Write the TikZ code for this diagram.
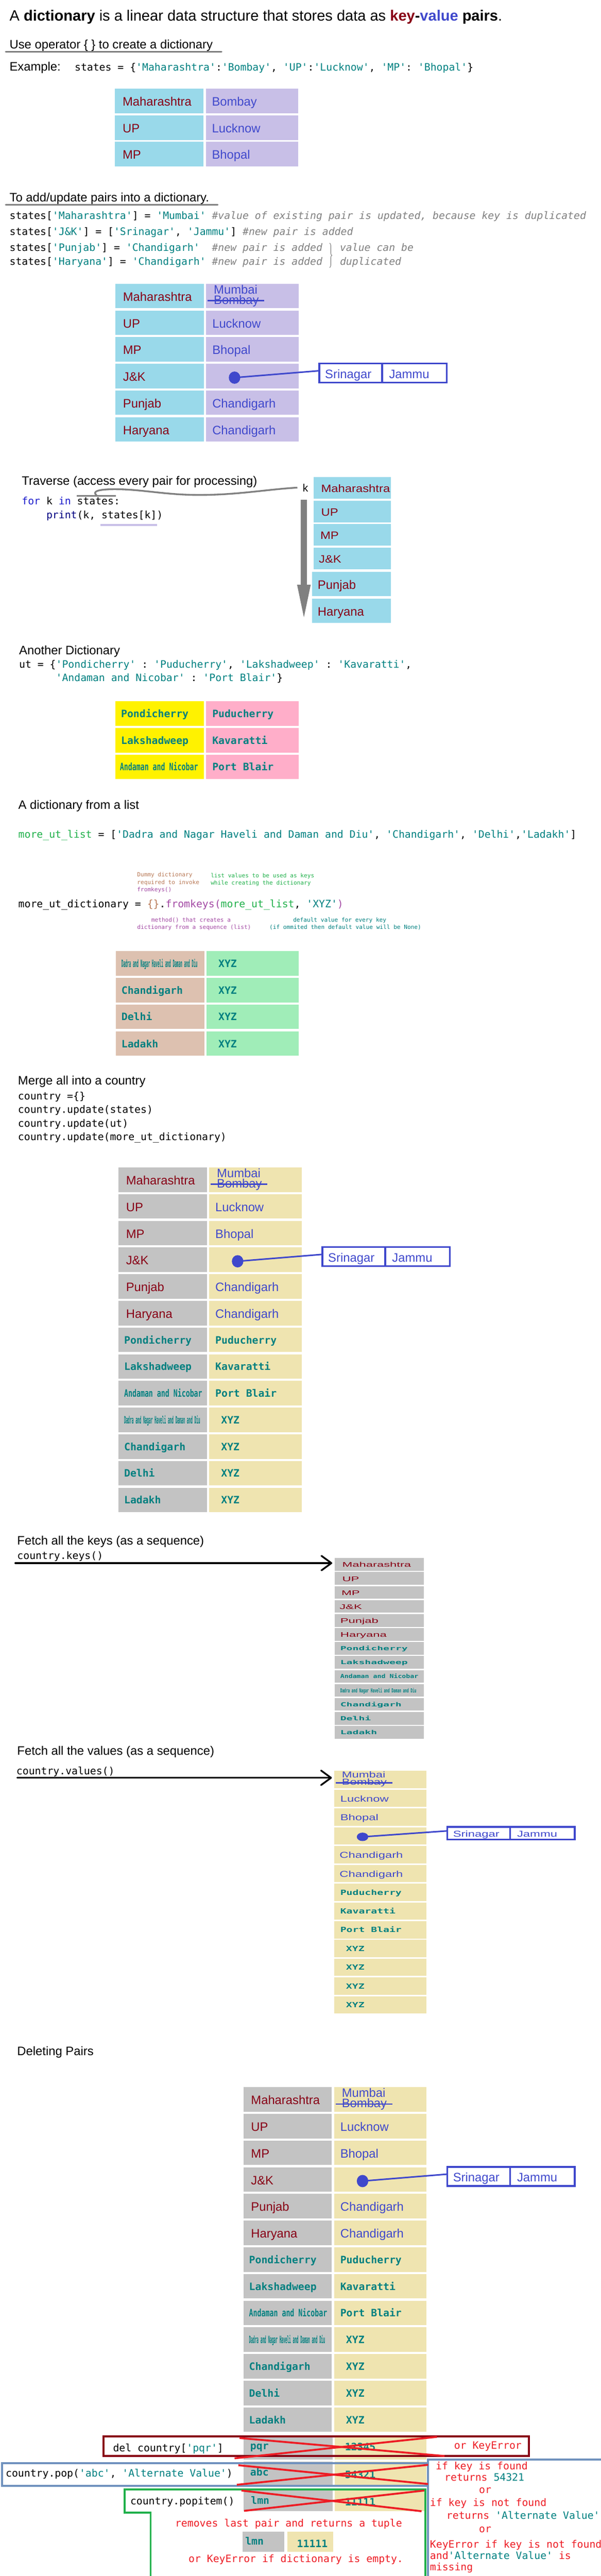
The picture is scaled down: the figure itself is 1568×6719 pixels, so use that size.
\documentclass[tikz,border=0pt]{standalone}
\usepackage{fontspec}
\setmainfont{Liberation Sans}
\setmonofont{DejaVu Sans Mono}
\usepackage{graphicx}
\usetikzlibrary{arrows.meta,decorations.pathreplacing,shapes.geometric}
\definecolor{keyred}{HTML}{880015}
\definecolor{valblue}{HTML}{3F48CC}
\definecolor{keyblue}{HTML}{99D9EA}
\definecolor{lav}{HTML}{C8BFE7}
\definecolor{yel}{HTML}{FFF200}
\definecolor{cpink}{HTML}{FFAEC9}
\definecolor{ctan}{HTML}{DDC1B0}
\definecolor{mint}{HTML}{A0EDB8}
\definecolor{lgray}{HTML}{C3C3C3}
\definecolor{cream}{HTML}{EFE4B0}
\definecolor{cteal}{HTML}{008080}
\definecolor{cmgray}{HTML}{808080}
\definecolor{cbrown}{HTML}{B97A57}
\definecolor{cpurple}{HTML}{A349A4}
\definecolor{cgreen}{HTML}{22B14C}
\definecolor{cred}{HTML}{ED1C24}
\definecolor{bluegray}{HTML}{7092BE}
\definecolor{kwblue}{HTML}{1C1CCC}
\definecolor{cnavy}{HTML}{000080}
\newcommand\SF{\fontsize{32}{38}\selectfont}
\newcommand\TF{\fontsize{39}{46}\selectfont}
\newcommand\MF{\ttfamily\fontsize{26.58}{32}\selectfont}
\newcommand\NF{\ttfamily\fontsize{14.95}{18}\selectfont}
\newcommand\qs[1]{\textcolor{cteal}{#1}}
\newcommand\cmt[1]{\textcolor{cmgray}{\itshape #1}}
\newcommand\redT[1]{\textcolor{cred}{#1}}
\newcommand\keyT[1]{\textcolor{keyred}{\SF #1}}
\newcommand\valT[1]{\textcolor{valblue}{\SF #1}}
\newcommand\monoP[1]{\textcolor{cteal}{\MF\bfseries #1}}
\newcommand\monoT[1]{\raisebox{3pt}{\monoP{#1}}}
\newcommand\monoK[1]{\kern-5pt\monoT{#1}}
\newcommand\xyzT{\hspace*{15pt}\monoT{XYZ}}
\newcommand\andaman{\monoK{\scalebox{0.67}[1]{Andaman and Nicobar}}}
\newcommand\dadra{\monoK{\scalebox{0.31}[1]{Dadra and Nagar Haveli and Daman and Diu}}}
\newcommand\sk[1]{\scalebox{1}[0.55]{#1}}
\newcommand\sv[1]{\scalebox{1}[0.7]{#1}}
\tikzset{
  cellbox/.style={draw=none,inner sep=0pt,outer sep=0pt,anchor=north west},
  tx/.style={inner sep=0pt,outer sep=0pt,anchor=base west},
  uline/.style={draw=cmgray,line width=4.5pt,line cap=round},
  xmark/.style={draw=cred,line width=5pt},
  fetcharrow/.style={draw=black,line width=4.5pt,line cap=round,shorten >=6pt,-{Straight Barb[length=26pt,width=38pt,round]}},
}
\newcommand\mkcell[6]{\node[cellbox,fill=#6,minimum width=#4,minimum height=#5] (#1) at (#2,#3) {};}
\newcommand\mktext[5]{\node[tx] (#1) at ([xshift=#3pt,yshift=-#4pt]#2.west) {#5};}
\newcommand\mkrow[7]{\mkcell{#1k}{#2}{#3}{231}{64}{#4}\mkcell{#1v}{#2+237}{#3}{241}{64}{#5}\mktext{#1kt}{#1k}{20}{13}{#6}\mktext{#1vt}{#1v}{16}{13}{#7}}
\newcommand\mklrow[9]{\mkcell{#1}{#2}{#3}{#4}{#5}{#6}\mktext{#1t}{#1}{#7}{#9}{#8}}
\newcommand\mkmumbai[6]{%
  \node[tx] (#1mu) at ([xshift=20pt,yshift=-#3pt]#2.north west) {\scalebox{1}[#6]{\valT{Mumbai}}};
  \node[tx] (#1bo) at ([xshift=20pt,yshift=-#5pt]#2.north west) {\scalebox{1}[#6]{\valT{Bombay}}};
  \draw[valblue,line width=4pt] ([xshift=4pt,yshift=-#4pt]#2.north west) -- ([xshift=152pt,yshift=-#4pt]#2.north west);}
\newcommand\mkjk[6]{%
  \node[ellipse,fill=valblue,inner sep=0pt,minimum width=30,minimum height=#4] (#1dot) at ([xshift=74pt,yshift=-#3pt]#2.north west) {};
  \node[draw=valblue,line width=4.5pt,fill=white,inner sep=0pt,outer sep=0pt,anchor=north west,minimum width=332.5,minimum height=#5] (#1box) at ([xshift=54.25pt,yshift=0.75pt]#2.north east) {};
  \draw[valblue,line width=4.5pt] ([xshift=164pt]#1box.north west) -- ([xshift=164pt]#1box.south west);
  \node[tx] (#1sr) at ([xshift=15pt,yshift=-14*#6pt]#1box.west) {\scalebox{1}[#6]{\valT{Srinagar}}};
  \node[tx] (#1ja) at ([xshift=182pt,yshift=-14*#6pt]#1box.west) {\scalebox{1}[#6]{\valT{Jammu}}};
  \draw[valblue,line width=4pt] (#1dot.center) -- ([yshift=6pt]#1box.west);}
\newcommand\bigtable[5]{%
  \mkrow{#1a}{#2}{#3}{#4}{#5}{\keyT{Maharashtra}}{}
  \mkmumbai{#1a}{#1av}{26.5}{44}{53}{1}
  \mkrow{#1b}{#2}{#3+69.6}{#4}{#5}{\keyT{UP}}{\valT{Lucknow}}
  \mkrow{#1c}{#2}{#3+139.2}{#4}{#5}{\keyT{MP}}{\valT{Bhopal}}
  \mkrow{#1d}{#2}{#3+208.8}{#4}{#5}{\keyT{J\&K}}{}
  \mkjk{#1d}{#1dv}{36}{32}{49.5}{1}
  \mkrow{#1e}{#2}{#3+278.4}{#4}{#5}{\keyT{Punjab}}{\valT{Chandigarh}}
  \mkrow{#1f}{#2}{#3+348}{#4}{#5}{\keyT{Haryana}}{\valT{Chandigarh}}
  \mkrow{#1g}{#2}{#3+417.6}{#4}{#5}{\monoK{Pondicherry}}{\monoT{Puducherry}}
  \mkrow{#1h}{#2}{#3+487.2}{#4}{#5}{\monoK{Lakshadweep}}{\monoT{Kavaratti}}
  \mkrow{#1i}{#2}{#3+556.8}{#4}{#5}{\andaman}{\monoT{Port Blair}}
  \mkrow{#1j}{#2}{#3+626.4}{#4}{#5}{\dadra}{\xyzT}
  \mkrow{#1k}{#2}{#3+696}{#4}{#5}{\monoK{Chandigarh}}{\xyzT}
  \mkrow{#1l}{#2}{#3+765.6}{#4}{#5}{\monoK{Delhi}}{\xyzT}
  \mkrow{#1m}{#2}{#3+835.2}{#4}{#5}{\monoK{Ladakh}}{\xyzT}}
\begin{document}
\begin{tikzpicture}[x=1pt,y=-1pt]
\useasboundingbox (0,0) rectangle (1568,6719);
\fill[white] (0,0) rectangle (1568,6719);
% ---------- title
\node[tx] (title) at (25,55) {\TF A \textbf{dictionary} is a linear data structure that stores data as \textbf{\textcolor{keyred}{key}-\textcolor{valblue}{value}} \textbf{pairs}.};
% ---------- section 1
\node[tx] (h1) at (25,127) {\SF Use operator \{ \} to create a dictionary};
\draw[uline] (15,135) -- (578,135);
\node[tx] (ex) at (25,185) {\SF Example:};
\node[tx] (exc) at (195,185) {\MF states = \{\qs{'Maharashtra'}:\qs{'Bombay'}, \qs{'UP'}:\qs{'Lucknow'}, \qs{'MP'}: \qs{'Bhopal'}\}};
\mkrow{ta}{300}{231}{keyblue}{lav}{\keyT{Maharashtra}}{\valT{Bombay}}
\mkrow{tb}{300}{301}{keyblue}{lav}{\keyT{UP}}{\valT{Lucknow}}
\mkrow{tc}{300}{370}{keyblue}{lav}{\keyT{MP}}{\valT{Bhopal}}
% ---------- section 2
\node[tx] (h2) at (25,526) {\SF To add/update pairs into a dictionary.};
\draw[uline] (15,534) -- (568,534);
\node[tx] (ad1) at (25,572) {\MF states[\qs{'Maharashtra'}] = \qs{'Mumbai'} \cmt{\#value of existing pair is updated, because key is duplicated}};
\node[tx] (ad2) at (25,614) {\MF states[\qs{'J\&K'}] = [\qs{'Srinagar'}, \qs{'Jammu'}] \cmt{\#new pair is added}};
\node[tx] (ad3) at (25,655) {\MF states[\qs{'Punjab'}] = \qs{'Chandigarh'}~ \cmt{\#new pair is added}};
\node[tx] (ad4) at (25,692) {\MF states[\qs{'Haryana'}] = \qs{'Chandigarh'} \cmt{\#new pair is added}};
\draw[cmgray,line width=1.5pt,decorate,decoration={brace,amplitude=6pt}] (860,634) -- (860,698);
\node[tx] (ad3b) at (887,655) {\MF\cmt{value can be}};
\node[tx] (ad4b) at (887,692) {\MF\cmt{duplicated}};
\mkrow{ua}{301}{740}{keyblue}{lav}{\keyT{Maharashtra}}{}
\mkmumbai{ua}{uav}{26.5}{44}{53.5}{1}
\mkrow{ub}{301}{810}{keyblue}{lav}{\keyT{UP}}{\valT{Lucknow}}
\mkrow{uc}{301}{879}{keyblue}{lav}{\keyT{MP}}{\valT{Bhopal}}
\mkrow{ud}{301}{949}{keyblue}{lav}{\keyT{J\&K}}{}
\mkjk{ud}{udv}{36}{32}{49.5}{1}
\mkrow{ue}{301}{1018}{keyblue}{lav}{\keyT{Punjab}}{\valT{Chandigarh}}
\mkrow{uf}{301}{1088}{keyblue}{lav}{\keyT{Haryana}}{\valT{Chandigarh}}
% ---------- traverse
\node[tx] (h3) at (57,1265) {\SF Traverse (access every pair for processing)};
\node[tx] (for) at (57,1316) {\MF\textcolor{kwblue}{for} k \textcolor{kwblue}{in} states:};
\node[tx] (prt) at (121,1352) {\MF\textcolor{cnavy}{print}(k, states[k])};
\draw[lav,line width=6pt] (262,1369) -- (410,1369);
\node[tx] (kk) at (790,1282) {\fontsize{28}{32}\selectfont k};
\draw[cmgray,line width=4.5pt] (200,1293) -- (303,1293);
\coordinate (trS) at (252,1292);
\coordinate (trE) at ([xshift=-14pt]kk.west);
\draw[cmgray,line width=4.5pt] (trS) .. controls (240,1282) and (255,1276) .. (300,1276) .. controls (370,1276) and (430,1291) .. (520,1291) .. controls (620,1291) and (700,1276) .. (trE);
\mklrow{tr1}{818}{1244}{202}{57}{keyblue}{20}{\scalebox{1}[0.87]{\keyT{Maharashtra}}}{11.3}
\mklrow{tr2}{818}{1306}{202}{57}{keyblue}{20}{\scalebox{1}[0.87]{\keyT{UP}}}{11.3}
\mklrow{tr3}{818}{1367}{202}{56}{keyblue}{18}{\scalebox{1}[0.87]{\keyT{MP}}}{11.3}
\mklrow{tr4}{818}{1429}{202}{56}{keyblue}{14}{\scalebox{1}[0.87]{\keyT{J\&K}}}{11.3}
\mklrow{tr5}{815}{1491}{205}{64}{keyblue}{14}{\keyT{Punjab}}{13}
\mklrow{tr6}{815}{1561}{205}{64}{keyblue}{14}{\keyT{Haryana}}{13}
\coordinate (trA) at (793,1304);
\coordinate (trB) at (793,1625);
\draw[cmgray,line width=16pt,-{Triangle[length=100pt,width=30pt]}] (trA) -- (trB);
% ---------- another dictionary
\node[tx] (h4) at (50,1707) {\SF Another Dictionary};
\node[tx] (ut1) at (50,1742) {\MF ut = \{\qs{'Pondicherry'} : \qs{'Puducherry'}, \qs{'Lakshadweep'} : \qs{'Kavaratti'},};
\node[tx] (ut2) at (146,1777) {\MF\qs{'Andaman and Nicobar'} : \qs{'Port Blair'}\}};
\mkrow{va}{301}{1829}{yel}{cpink}{\monoK{Pondicherry}}{\monoT{Puducherry}}
\mkrow{vb}{301}{1899}{yel}{cpink}{\monoK{Lakshadweep}}{\monoT{Kavaratti}}
\mkrow{vc}{301}{1968}{yel}{cpink}{\kern-3pt\andaman}{\monoT{Port Blair}}
% ---------- dictionary from a list
\node[tx] (h5) at (48,2111) {\SF A dictionary from a list};
\node[tx] (ml) at (48,2186) {\MF\textcolor{cgreen}{more\_ut\_list} = [\qs{'Dadra and Nagar Haveli and Daman and Diu'}, \qs{'Chandigarh'}, \qs{'Delhi'},\qs{'Ladakh'}]};
\node[tx] (an1) at (358,2287) {\NF\textcolor{cbrown}{Dummy dictionary}};
\node[tx] (an2) at (358,2306) {\NF\textcolor{cbrown}{required to invoke}};
\node[tx] (an3) at (358,2325) {\NF\textcolor{cpurple}{fromkeys()}};
\node[tx] (an4) at (550,2289) {\NF\textcolor{cgreen}{list values to be used as keys}};
\node[tx] (an5) at (550,2308) {\NF\textcolor{cgreen}{while creating the dictionary}};
\node[tx] (fk) at (48,2367) {\MF more\_ut\_dictionary = \textcolor{cbrown}{\{\}}.\textcolor{cpurple}{fromkeys(}\textcolor{cgreen}{more\_ut\_list}, \qs{'XYZ'}\textcolor{cpurple}{)}};
\node[tx] (an6) at (395,2405) {\NF\textcolor{cpurple}{method() that creates a}};
\node[tx] (an7) at (358,2424) {\NF\textcolor{cpurple}{dictionary from a sequence (list)}};
\node[tx] (an8) at (765,2405) {\NF\textcolor{cteal}{default value for every key}};
\node[tx] (an9) at (703,2424) {\NF\textcolor{cteal}{(if ommited then default value will be None)}};
\mkrow{fa}{302}{2481}{ctan}{mint}{\dadra}{\xyzT}
\mkrow{fb}{302}{2551}{ctan}{mint}{\monoK{Chandigarh}}{\xyzT}
\mkrow{fc}{302}{2620}{ctan}{mint}{\monoK{Delhi}}{\xyzT}
\mkrow{fd}{302}{2690}{ctan}{mint}{\monoK{Ladakh}}{\xyzT}
% ---------- merge
\node[tx] (h6) at (47,2830) {\SF Merge all into a country};
\node[tx] (mg1) at (47,2868) {\MF country =\{\}};
\node[tx] (mg2) at (47,2903) {\MF country.update(states)};
\node[tx] (mg3) at (47,2939) {\MF country.update(ut)};
\node[tx] (mg4) at (47,2974) {\MF country.update(more\_ut\_dictionary)};
\bigtable{mg}{309}{3045}{lgray}{cream}
% ---------- fetch keys
\node[tx] (h7) at (45,4029) {\SF Fetch all the keys (as a sequence)};
\node[tx] (ck) at (45,4067) {\MF country.keys()};
\mklrow{kl1}{873}{4064}{233}{33}{lgray}{20}{\sk{\keyT{Maharashtra}}}{7.15}
\mklrow{kl2}{873}{4100.5}{233}{33}{lgray}{20}{\sk{\keyT{UP}}}{7.15}
\mklrow{kl3}{873}{4137}{233}{33}{lgray}{18}{\sk{\keyT{MP}}}{7.15}
\mklrow{kl4}{873}{4173.5}{233}{33}{lgray}{13}{\sk{\keyT{J\&K}}}{7.15}
\mklrow{kl5}{873}{4210}{233}{33}{lgray}{15}{\sk{\keyT{Punjab}}}{7.15}
\mklrow{kl6}{873}{4246.5}{233}{33}{lgray}{15}{\sk{\keyT{Haryana}}}{7.15}
\mklrow{kl7}{873}{4283}{233}{33}{lgray}{20}{\sk{\monoK{Pondicherry}}}{7.15}
\mklrow{kl8}{873}{4319.5}{233}{33}{lgray}{20}{\sk{\monoK{Lakshadweep}}}{7.15}
\mklrow{kl9}{873}{4356}{233}{33}{lgray}{20}{\sk{\andaman}}{7.15}
\mklrow{kl10}{873}{4392.5}{233}{33}{lgray}{20}{\sk{\dadra}}{7.15}
\mklrow{kl11}{873}{4429}{233}{33}{lgray}{20}{\sk{\monoK{Chandigarh}}}{7.15}
\mklrow{kl12}{873}{4465.5}{233}{33}{lgray}{20}{\sk{\monoK{Delhi}}}{7.15}
\mklrow{kl13}{873}{4502}{233}{33}{lgray}{20}{\sk{\monoK{Ladakh}}}{7.15}
\coordinate (fkA) at (40,4077);
\draw[fetcharrow] (fkA) -- (fkA -| kl1.west);
% ---------- fetch values
\node[tx] (h8) at (45,4578) {\SF Fetch all the values (as a sequence)};
\node[tx] (cv) at (43,4628) {\MF country.values()};
\mklrow{vl1}{872}{4619}{241}{45}{cream}{16}{}{9.1}
\mkmumbai{vla}{vl1}{18}{31}{37}{0.7}
\mklrow{vl2}{872}{4668}{241}{45}{cream}{16}{\sv{\valT{Lucknow}}}{9.1}
\mklrow{vl3}{872}{4717}{241}{45}{cream}{16}{\sv{\valT{Bhopal}}}{9.1}
\mklrow{vl4}{872}{4766}{241}{45}{cream}{16}{}{9.1}
\mkjk{vld}{vl4}{25}{22}{32.5}{0.7}
\mklrow{vl5}{872}{4815}{241}{45}{cream}{14}{\sv{\valT{Chandigarh}}}{9.1}
\mklrow{vl6}{872}{4864}{241}{45}{cream}{14}{\sv{\valT{Chandigarh}}}{9.1}
\mklrow{vl7}{872}{4913}{241}{45}{cream}{16}{\sv{\monoT{Puducherry}}}{9.1}
\mklrow{vl8}{872}{4962}{241}{45}{cream}{16}{\sv{\monoT{Kavaratti}}}{9.1}
\mklrow{vl9}{872}{5011}{241}{45}{cream}{16}{\sv{\monoT{Port Blair}}}{9.1}
\mklrow{vl10}{872}{5060}{241}{45}{cream}{16}{\sv{\xyzT}}{9.1}
\mklrow{vl11}{872}{5109}{241}{45}{cream}{16}{\sv{\xyzT}}{9.1}
\mklrow{vl12}{872}{5158}{241}{45}{cream}{16}{\sv{\xyzT}}{9.1}
\mklrow{vl13}{872}{5207}{241}{45}{cream}{16}{\sv{\xyzT}}{9.1}
\coordinate (fvA) at (45,4637);
\draw[fetcharrow] (fvA) -- (fvA -| vl1.west);
% ---------- deleting
\node[tx] (h9) at (45,5361) {\SF Deleting Pairs};
\bigtable{dl}{635}{5444}{lgray}{cream}
\mkcell{pqk}{636}{6357}{232}{58}{lgray}
\mkcell{pqv}{873}{6357}{240}{58}{cream}
\node[tx] (pqkt) at (653,6389) {\monoP{pqr}};
\node[tx] (pqvt) at (900,6392) {\monoP{12345}};
\mkcell{abk}{636}{6420}{232}{63}{lgray}
\mkcell{abv}{873}{6420}{240}{63}{cream}
\node[tx] (abkt) at (653,6458) {\monoP{abc}};
\node[tx] (abvt) at (900,6464) {\monoP{54321}};
\mkcell{lmk}{636}{6496}{232}{54}{lgray}
\mkcell{lmv}{873}{6496}{235}{54}{cream}
\node[tx] (lmkt) at (655,6531) {\monoP{lmn}};
\node[tx] (lmvt) at (900,6535) {\monoP{11111}};
% frames
\node[draw=keyred,line width=5pt,inner sep=0pt,outer sep=0pt,anchor=north west,minimum width=1110,minimum height=51] (delbox) at (270.5,6354.5) {};
\node[tx] (delt) at (295,6394) {\MF del country[\qs{'pqr'}]};
\node[tx] (delk) at (1185,6387) {\MF\redT{or KeyError}};
\node[draw=bluegray,line width=5pt,inner sep=0pt,outer sep=0pt,anchor=north west,minimum width=1112,minimum height=59] (popbox) at (5,6425) {};
\coordinate (popR) at (1117,6415);
\draw[bluegray,line width=5pt] (1575,6415) -- (popR) -- (1117,6730);
\node[tx] (popt) at (15,6460) {\MF country.pop(\qs{'abc'}, \qs{'Alternate Value'})};
\draw[cgreen,line width=5pt] (393,6730) -- (393,6554) -- (325,6554) -- (325,6493) -- (1110,6493) -- (1110,6730);
\node[tx] (pit) at (340,6533) {\MF country.popitem()};
\node[tx] (rm1) at (457,6590) {\MF\redT{removes last pair and returns a tuple}};
\mkcell{smk}{633}{6604}{109}{52}{lgray}
\mkcell{smv}{750}{6604}{120}{52}{cream}
\node[tx] (smkt) at (640,6638) {\monoP{lmn}};
\node[tx] (smvt) at (775,6645) {\monoP{11111}};
\node[tx] (rm2) at (492,6683) {\MF\redT{or KeyError if dictionary is empty.}};
\node[tx] (r1) at (1137,6442) {\MF\redT{if key is found}};
\node[tx] (r2) at (1160,6471) {\MF\redT{returns} \qs{54321}};
\node[tx] (r3) at (1250,6503) {\MF\redT{or}};
\node[tx] (r4) at (1122,6537) {\MF\redT{if key is not found}};
\node[tx] (r5) at (1165,6570) {\MF\redT{returns} \qs{'Alternate Value'}};
\node[tx] (r6) at (1250,6606) {\MF\redT{or}};
\node[tx] (r7) at (1122,6646) {\MF\redT{KeyError if key is not found}};
\node[tx] (r8) at (1122,6675) {\MF\redT{and}\qs{'Alternate Value'} \redT{is}};
\node[tx] (r9) at (1122,6705) {\MF\redT{missing}};
% red crosses
\draw[xmark] (625,6359) -- (1160,6406);
\draw[xmark] (612,6412) -- (1140,6356);
\draw[xmark] (622,6430) -- (1117,6479);
\draw[xmark] (618,6481) -- (1117,6429);
\draw[xmark] (630,6496) -- (1100,6550);
\draw[xmark] (637,6549) -- (1107,6496);
\end{tikzpicture}
\end{document}
